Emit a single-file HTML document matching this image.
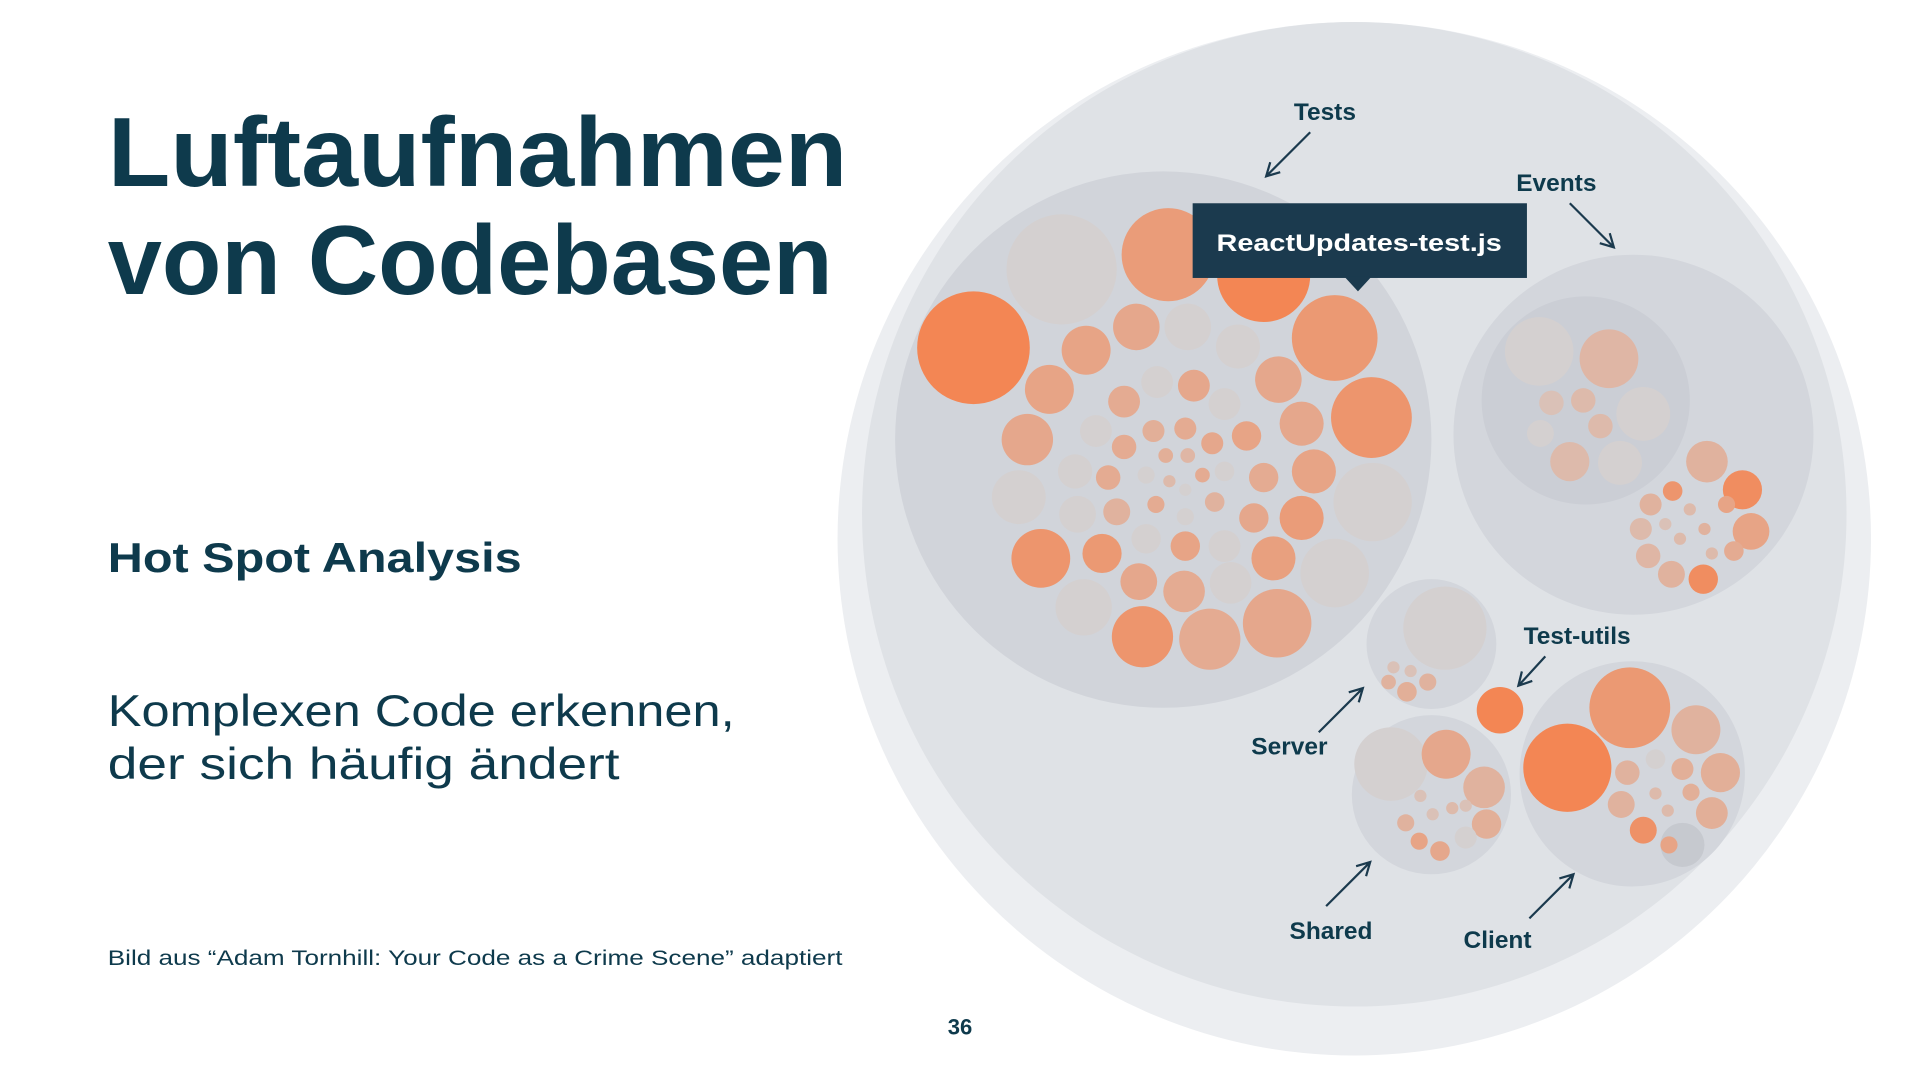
<!DOCTYPE html>
<html><head><meta charset="utf-8"><style>
html,body{margin:0;padding:0;background:#fff;width:1920px;height:1080px;overflow:hidden}
svg{display:block}
text{font-family:"Liberation Sans",sans-serif;fill:#0e3a4c}
</style></head><body>
<svg id="chart" width="1920" height="1080" viewBox="0 0 1568 882" xmlns="http://www.w3.org/2000/svg">
<rect width="1568" height="882" fill="#fff"/>
<text x="88" y="152" font-size="80" font-weight="bold" textLength="604" lengthAdjust="spacingAndGlyphs">Luftaufnahmen</text>
<text x="88" y="240" font-size="80" font-weight="bold" textLength="592" lengthAdjust="spacingAndGlyphs">von Codebasen</text>
<text x="88" y="467" font-size="34" font-weight="bold" textLength="338" lengthAdjust="spacingAndGlyphs">Hot Spot Analysis</text>
<text x="88" y="593" font-size="36" textLength="512" lengthAdjust="spacingAndGlyphs">Komplexen Code erkennen,</text>
<text x="88" y="636" font-size="36" textLength="418" lengthAdjust="spacingAndGlyphs">der sich häufig ändert</text>
<text x="88" y="788" font-size="17" textLength="600" lengthAdjust="spacingAndGlyphs">Bild aus “Adam Tornhill: Your Code as a Crime Scene” adaptiert</text>
<text x="784" y="845" font-size="18" font-weight="bold" text-anchor="middle">36</text>
<g id="bubbles"></g>
<g id="overlay"></g>
</svg>
<script>
// Containers: [cx, cy, r, fill]
const containerNames = ['outer-halo','root','tests','events','events-sub','server','shared','client'];
const containerGeom = [[1106,440,422],[1106,420,402],[950,359,219],[1334,355,147],[1295,327,85],[1169,526,53],[1169,649,65],[1333,632,92]];
const containerFill = ['#eceef1','#dfe2e6','#d1d4da','#d3d6dc','#cbced5','#d3d6dc','#d3d6dc','#d3d6dc'];

// File bubbles: positions (layout), radii (size), heat (change frequency 0..1)
const testsPos = [[795,284],[867,220],[954,208],[1032,225],[1090,276],[1120,341],[1121,410],[1090,468],[1043,509],[988,522],[933,520],[885,496],[850,456],[832,406],[839,359],[857,318],[887,286],[928,267],[970,267],[1011,283],[1044,310],[1063,346],[1073,385],[1063,423],[1040,456],[1005,476],[967,483],[930,475],[900,452],[880,420],[878,385],[895,352],[918,328],[945,312],[975,315],[1000,330],[1018,356],[1032,390],[1024,423],[1000,446],[968,446],[936,440],[912,418],[905,390],[918,365],[942,352],[968,350],[990,362],[1000,385],[992,410],[968,422],[944,412],[936,388],[952,372],[970,372],[982,388],[968,400],[955,393]];
const testsR = [46,45,38,38,35,33,32,28,28,25,25,23,24,22,21,20,20,19,19,18,19,18,18,18,18,17,17,15,16,15,14,13,13,13,13,13,12,12,12,13,12,12,11,10,10,9,9,9,8,8,7,7,7,6,6,6,5,5];
const testsHeat = [1.0,0,0.7,1.0,0.75,0.8,0,0,0.55,0.5,0.8,0,0.8,0,0.55,0.6,0.6,0.55,0,0,0.55,0.55,0.6,0.7,0.65,0,0.5,0.55,0.75,0,0,0,0.5,0,0.55,0,0.6,0.5,0.55,0,0.6,0,0.4,0.5,0.5,0.45,0.5,0.55,0,0.4,0,0.5,0,0.45,0.35,0.5,0,0.3];

const eventsPos = [[1257,287],[1314,293],[1342,338],[1282,377],[1323,378],[1293,327],[1307,348],[1267,329],[1258,354],[1394,377],[1423,400],[1430,434],[1391,473],[1365,469],[1346,454],[1340,432],[1348,412],[1366,401],[1410,412],[1416,450],[1380,416],[1392,432],[1372,440],[1398,452],[1360,428]];
const eventsR = [28,24,22,16,18,10,10,10,11,17,16,15,12,11,10,9,9,8,7,8,5,5,5,5,5];
const eventsHeat = [0,0.35,0,0.3,0,0.3,0.3,0.2,0,0.4,0.9,0.6,0.9,0.4,0.35,0.3,0.4,0.8,0.6,0.5,0.3,0.4,0.3,0.3,0.2];

const serverPos = [[1180,513],[1134,557],[1149,565],[1166,557],[1138,545],[1152,548]];
const serverR = [34,6,8,7,5,5];
const serverHeat = [0,0.4,0.45,0.4,0.2,0.2];

const sharedPos = [[1136,624],[1181,616],[1212,643],[1214,673],[1176,695],[1159,687],[1148,672],[1197,684],[1170,665],[1186,660],[1160,650],[1197,658]];
const sharedR = [30,20,17,12,8,7,7,9,5,5,5,5];
const sharedHeat = [0,0.55,0.4,0.45,0.55,0.6,0.4,0,0.2,0.3,0.2,0.2];

const clientPos = [[1280,627],[1331,578],[1385,596],[1405,631],[1398,664],[1342,678],[1374,690],[1363,690],[1329,631],[1324,657],[1374,628],[1381,647],[1352,648],[1362,662],[1352,620]];
const clientR = [36,33,20,16,13,11,18,7,10,11,9,7,5,5,8];
const clientHeat = [1.0,0.75,0.4,0.45,0.45,0.85,-1,0.6,0.4,0.4,0.45,0.45,0.3,0.3,0];

const testUtilsPos = [[1225,580]];
const testUtilsR = [19];
const testUtilsHeat = [1.0];

const NS = 'http://www.w3.org/2000/svg';
const gB = document.getElementById('bubbles');
const gO = document.getElementById('overlay');

function heatColor(h){
  if(h<0) return '#c6c9cf';
  const g=[212,208,208], o=[243,134,84];
  const c=g.map((v,i)=>Math.round(v+(o[i]-v)*h));
  return 'rgb('+c.join(',')+')';
}
function circ(parent,cx,cy,r,fill){
  const c=document.createElementNS(NS,'circle');
  c.setAttribute('cx',cx);c.setAttribute('cy',cy);c.setAttribute('r',r);c.setAttribute('fill',fill);
  parent.appendChild(c);return c;
}
containerGeom.forEach((g,i)=>{
  const c=circ(gB,g[0],g[1],g[2],containerFill[i]);
  
  
});
function drawGroup(name,pos,rs,heat){
  pos.forEach((p,i)=>{
    const c=circ(gB,p[0],p[1],rs[i],heatColor(heat[i]));
    
    
  });
}
drawGroup('tests',testsPos,testsR,testsHeat);
drawGroup('events',eventsPos,eventsR,eventsHeat);
drawGroup('server',serverPos,serverR,serverHeat);
drawGroup('shared',sharedPos,sharedR,sharedHeat);
drawGroup('client',clientPos,clientR,clientHeat);
drawGroup('test-utils',testUtilsPos,testUtilsR,testUtilsHeat);

// tooltip
const tip=document.createElementNS(NS,'g');


tip.innerHTML='<rect x="974" y="166" width="273" height="61" fill="#1b3a4e"/><polygon points="1098,226 1120,226 1109,238" fill="#1b3a4e"/><text x="1110" y="205" font-size="20" font-weight="bold" text-anchor="middle" style="fill:#fff" textLength="233" lengthAdjust="spacingAndGlyphs">ReactUpdates-test.js</text>';
gO.appendChild(tip);

// labels and arrows
const labelText = ['Tests','Events','Test-utils','Server','Shared','Client'];
const labelPos = [[1082,98],[1271,156],[1288,526],[1053,616],[1087,767],[1223,774]];
const arrowFrom = [[1070,108],[1282,166],[1262,536],[1077,598],[1083,740],[1249,750]];
const arrowTo = [[1034,144],[1318,202],[1240,560],[1113,562],[1119,704],[1285,714]];
labelText.forEach((t,i)=>{
  const tx=document.createElementNS(NS,'text');
  tx.setAttribute('x',labelPos[i][0]);tx.setAttribute('y',labelPos[i][1]);
  tx.setAttribute('font-size','20');tx.setAttribute('font-weight','bold');tx.setAttribute('text-anchor','middle');
  tx.textContent=t;
  
  
  gO.appendChild(tx);
  const [x1,y1]=arrowFrom[i],[x2,y2]=arrowTo[i];
  const a=Math.atan2(y2-y1,x2-x1),L=12;
  const p=document.createElementNS(NS,'path');
  const h1=[x2-L*Math.cos(a-0.5),y2-L*Math.sin(a-0.5)],h2=[x2-L*Math.cos(a+0.5),y2-L*Math.sin(a+0.5)];
  p.setAttribute('d',`M${x1},${y1}L${x2},${y2}M${h1[0]},${h1[1]}L${x2},${y2}L${h2[0]},${h2[1]}`);
  p.setAttribute('stroke','#1b3a4e');p.setAttribute('stroke-width','1.8');p.setAttribute('fill','none');
  
  
  gO.appendChild(p);
});
</script>
</body></html>
